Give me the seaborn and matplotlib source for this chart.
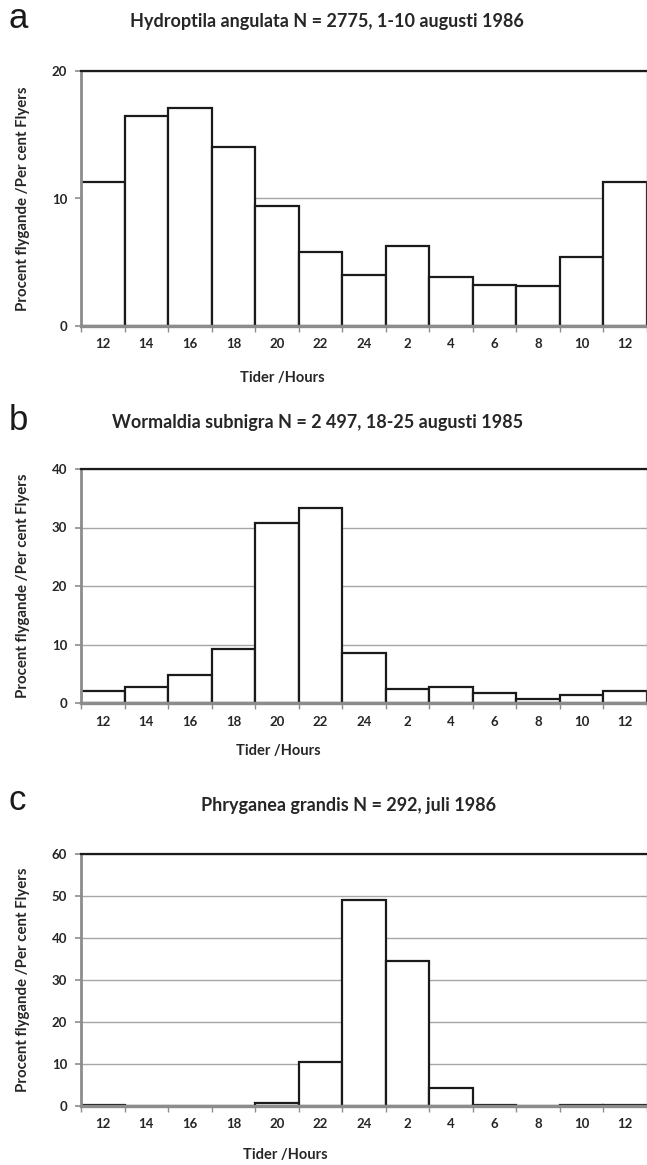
import numpy as np
import pandas as pd
import matplotlib
matplotlib.use("Agg")
import matplotlib.pyplot as plt
import seaborn as sns

hours = ["12", "14", "16", "18", "20", "22", "24", "2", "4", "6", "8", "10", "12"]
vals_a = [11.3, 16.5, 17.1, 14.0, 9.45, 5.8, 4.0, 6.3, 3.85, 3.2, 3.15, 5.45, 11.3]
vals_b = [2.1, 2.8, 4.8, 9.2, 30.7, 33.3, 8.5, 2.4, 2.8, 1.7, 0.6, 1.3, 2.1]
vals_c = [0.3, 0.0, 0.0, 0.0, 0.7, 10.4, 49.1, 34.5, 4.25, 0.3, 0.0, 0.3, 0.3]

titles = ["Hydroptila angulata N = 2775, 1-10 augusti 1986",
          "Wormaldia subnigra N = 2 497, 18-25 augusti 1985",
          "Phryganea grandis N = 292, juli 1986"]
letters = ["a", "b", "c"]
ymaxes = [20, 40, 60]
ysteps = [10, 10, 10]
ylabel = "Procent flygande /Per cent Flyers"
xlabel = "Tider /Hours"

sns.set_theme(style="white")
plt.rcParams['font.family'] = ['Lato', 'DejaVu Sans']

W, H = 647, 1165
fig = plt.figure(figsize=(W / 100, H / 100), dpi=100)

# pixel layout (top, bottom) of each panel
panels = [(71, 326), (469, 703), (854, 1106)]
left_px, right_px = 81, 647
title_pos = [(327, 22), (318, 422), (349, 805)]
letter_pos = [(18, 18), (18, 421), (17, 801)]
xlabel_pos = [(282, 378), (278, 751), (285, 1155)]

txt_col = "#262626"
grey = "#8c8c8c"

for i, vals in enumerate([vals_a, vals_b, vals_c]):
    top, bot = panels[i]
    ax = fig.add_axes([left_px / W, 1 - bot / H, (right_px - left_px) / W, (bot - top) / H])
    df = pd.DataFrame({"slot": np.arange(len(hours)), "value": vals})
    sns.barplot(data=df, x="slot", y="value", ax=ax, width=1.0, color="white",
                edgecolor="#1a1a1a", linewidth=1.6, zorder=3)
    ax.set_xlim(-0.5, len(hours) - 0.5)
    ax.set_ylim(0, ymaxes[i])
    ax.set_yticks(np.arange(0, ymaxes[i] + 1, ysteps[i]))
    ax.set_xticks(np.arange(len(hours)))
    ax.set_xticklabels(hours)
    ax.set_xticks(np.arange(-0.5, len(hours), 1), minor=True)
    ax.tick_params(axis="x", which="major", length=0, pad=9, labelsize=9.5,
                   labelcolor=txt_col)
    ax.tick_params(axis="x", which="minor", length=4, width=1, color=grey,
                   direction="out", bottom=True)
    ax.tick_params(axis="y", which="major", length=4, width=1.2, color=grey,
                   direction="out", left=True, pad=6, labelsize=9.5,
                   labelcolor=txt_col)
    for lab in ax.get_xticklabels() + ax.get_yticklabels():
        lab.set_fontweight("bold")
    ax.yaxis.grid(True, color="#a6a6a6", linewidth=1.0, zorder=0)
    ax.set_axisbelow(True)
    ax.set_xlabel("")
    ax.set_ylabel("")
    ax.spines["left"].set_color(grey)
    ax.spines["left"].set_linewidth(2.0)
    ax.spines["bottom"].set_color(grey)
    ax.spines["bottom"].set_linewidth(2.4)
    ax.spines["top"].set_color("#1a1a1a")
    ax.spines["top"].set_linewidth(1.6)
    ax.spines["right"].set_color("#a6a6a6")
    ax.spines["right"].set_linewidth(1.0)
    for s in ax.spines.values():
        s.set_visible(True)
        s.set_zorder(5)

    cy = (top + bot) / 2
    fig.text(23 / W, 1 - cy / H, ylabel, rotation=90, ha="center", va="center",
             fontsize=10.8, fontweight="bold", color=txt_col)
    fig.text(xlabel_pos[i][0] / W, 1 - xlabel_pos[i][1] / H, xlabel, ha="center",
             va="center", fontsize=10.5, fontweight="bold", color=txt_col)
    fig.text(title_pos[i][0] / W, 1 - title_pos[i][1] / H, titles[i], ha="center",
             va="center", fontsize=13, fontweight="bold", color=txt_col)
    fig.text(letter_pos[i][0] / W, 1 - letter_pos[i][1] / H, letters[i], ha="center",
             va="center", fontsize=25, color="#1a1a1a",
             family=["Liberation Sans", "DejaVu Sans"])

fig.savefig("out.png", dpi=100)
